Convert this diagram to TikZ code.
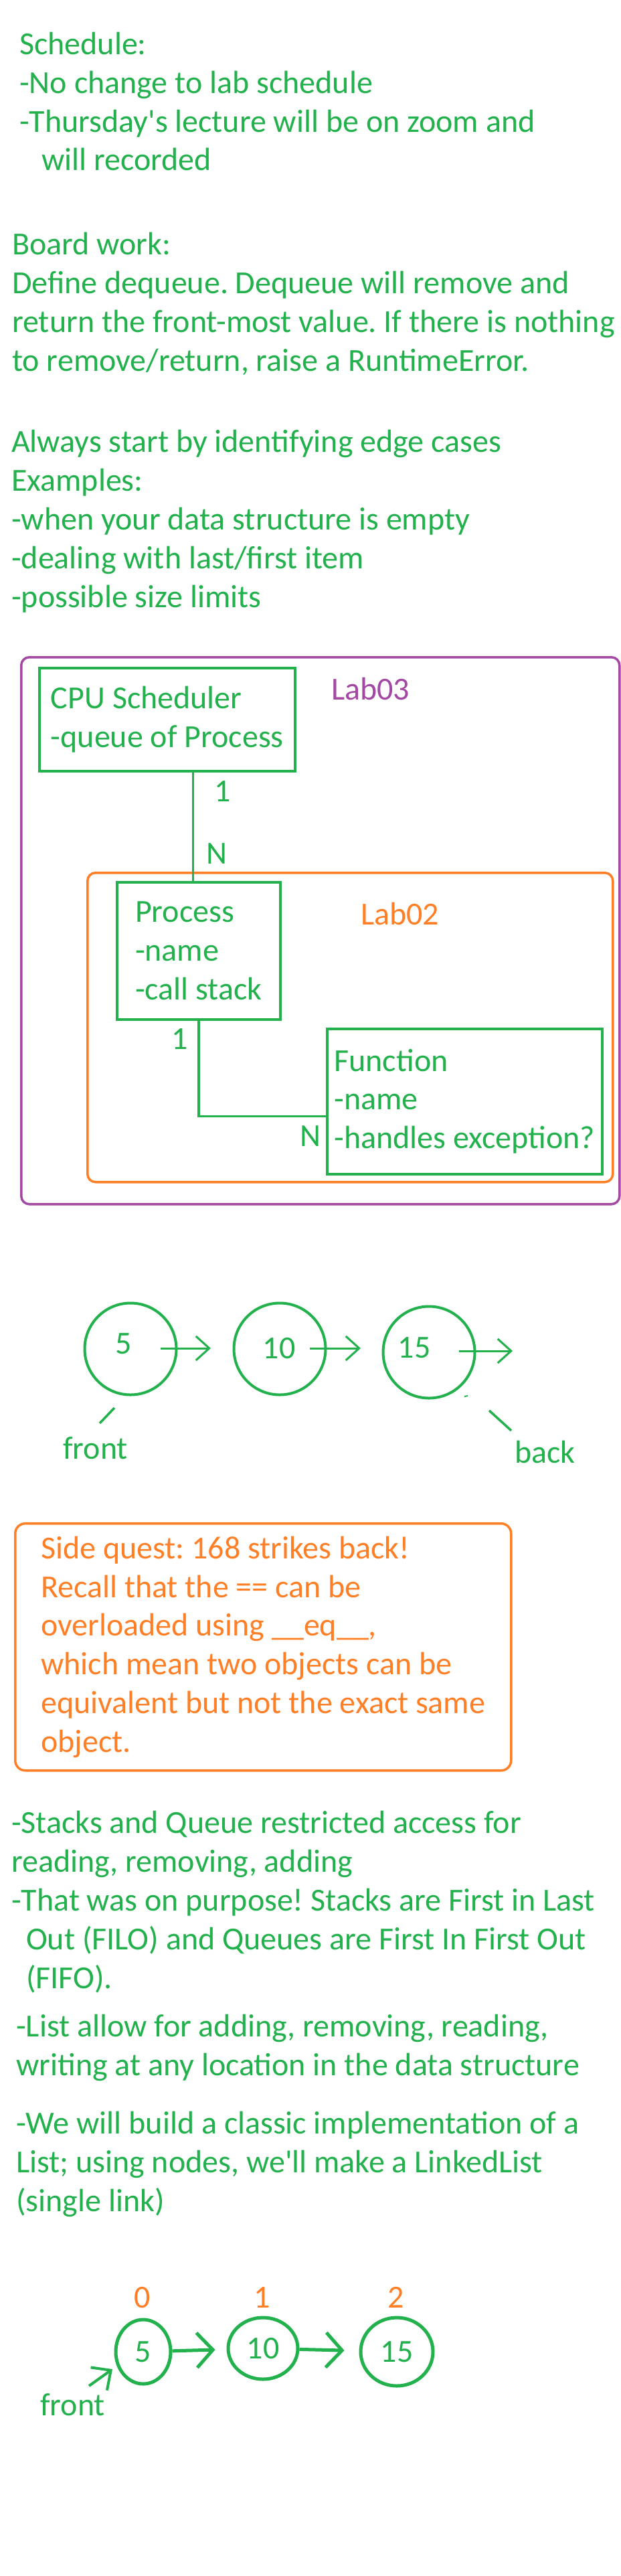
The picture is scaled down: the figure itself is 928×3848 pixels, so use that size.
\documentclass[tikz,border=0pt]{standalone}
\usepackage{fontspec}
\setmainfont{Carlito}[Ligatures=TeXOff]
\usetikzlibrary{calc,arrows.meta,shapes.geometric}
\definecolor{pgreen}{RGB}{34,177,76}
\definecolor{porange}{RGB}{255,127,39}
\definecolor{ppurple}{RGB}{163,73,164}
\frenchspacing
\begin{document}
\begin{tikzpicture}[x=1pt,y=-1pt,font=\fontsize{48}{57.8}\selectfont\frenchspacing,
    every node/.style={inner sep=0pt},
    note/.style={text=pgreen,align=left,anchor=base west},
    cls/.style={draw=pgreen,text=pgreen,line width=3.5pt,align=left,anchor=north west},
    labframe/.style={draw,line width=3.5pt,rounded corners=12pt,anchor=north west},
    link/.style={pgreen,line width=3.5pt},
    val/.style={circle,draw=pgreen,line width=4pt,minimum size=137pt},
    elem/.style={ellipse,draw=pgreen,text=pgreen,line width=5pt},
    nxt/.style={pgreen,line width=3pt,-{Straight Barb[length=20pt,width=36pt]}},
    bnxt/.style={pgreen,line width=5pt,-{Straight Barb[length=24pt,width=52pt]}}]
    \fill[white] (0,0) rectangle (928,3848);
    \useasboundingbox (0,0) rectangle (928,3848);
    \node[note] (sched) at (29,255) {Schedule:\\-No change to lab schedule\\-Thursday's lecture will be on zoom and\\\hspace*{33pt}will recorded};
    \node[note] (board) at (18,554) {Board work:\\Define dequeue. Dequeue will remove and\\return the front-most value. If there is nothing\\to remove/return, raise a RuntimeError.};
    \node[note] (edge) at (17,907) {Always start by identifying edge cases\\Examples:\\-when your data structure is empty\\-dealing with last/first item\\-possible size limits};
    \node[labframe,ppurple,minimum width=894pt,minimum height=817pt] (lab03) at (30,980) {};
    \node[labframe,porange,minimum width=785pt,minimum height=462pt] (lab02) at (129,1302) {};
    \node[ppurple,anchor=base west] at (495,1045) {Lab03};
    \node[porange,anchor=base west] at (539,1381) {Lab02};
    \node[cls,minimum width=382pt,minimum height=154pt] (cpu) at (57,996) {CPU Scheduler\\-queue of Process};
    \node[cls,minimum width=244pt,minimum height=205pt] (proc) at (173,1316) {Process\\-name\\-call stack};
    \node[cls,minimum width=411pt,minimum height=217pt] (func) at (487,1535) {Function\\-name\\-handles exception?};
    \coordinate (cpuout) at ($(cpu.south west)!0.6!(cpu.south east)$);
    \draw[link] (cpuout) -- (cpuout |- proc.north);
    \draw[link] (proc.south) |- ($(func.north west)!0.6!(func.south west)$);
    \node[pgreen,anchor=base west] at (320,1197) {1};
    \node[pgreen,anchor=base west] at (308,1290) {N};
    \node[pgreen,anchor=base west] at (256,1567) {1};
    \node[pgreen,anchor=base west] at (448,1712) {N};
    \node[val] (c5) at (195,2015) {};
    \node[val] (c10) at (418,2015) {};
    \node[val] (c15) at (641,2020) {};
    \node[pgreen] (v5) at (185,2007) {5};
    \node[pgreen] (v10) at (417,2014) {10};
    \node[pgreen] (v15) at (619,2013) {15};
    \draw[nxt] (240,2014) -- (315,2014);
    \draw[nxt] (463,2014) -- (539,2014);
    \draw[nxt] (686,2018) -- (766,2018);
    \draw[link] (171,2103) -- (149,2126);
    \node[pgreen,anchor=base west] (front) at (94,2179) {front};
    \draw[link] (731,2107) -- (764,2137);
    \draw[pgreen,line width=2pt] (694,2086) -- (699,2085);
    \node[pgreen,anchor=base west] (back) at (769,2185) {back};
    \node[draw=porange,text=porange,line width=3.5pt,rounded corners=15pt,align=left,anchor=north west,
        minimum width=741pt,minimum height=369pt] (quest) at (21,2274)
        {Side quest: 168 strikes back!\\Recall that the == can be\\overloaded using \_\_eq\_\_,\\which mean two objects can be\\equivalent but not the exact same\\object.};
    \node[note] (stacks) at (17,2970) {-Stacks and Queue restricted access for\\reading, removing, adding\\-That was on purpose! Stacks are First in Last\\\hspace*{22pt}Out (FILO) and Queues are First In First Out\\\hspace*{22pt}(FIFO).};
    \node[note] (lists) at (24,3100) {-List allow for adding, removing, reading,\\writing at any location in the data structure};
    \node[note] (linked) at (24,3303) {-We will build a classic implementation of a\\List; using nodes, we'll make a LinkedList\\(single link)};
    \node[porange,anchor=base] at (213,3447) {0};
    \node[porange,anchor=base] at (392,3447) {1};
    \node[porange,anchor=base] at (592,3447) {2};
    \node[elem,minimum width=82pt,minimum height=96pt] (n0) at (214,3513) {5};
    \node[elem,minimum width=104pt,minimum height=92pt] (n1) at (393,3508) {10};
    \node[elem,minimum width=108pt,minimum height=102pt] (n2) at (593,3513) {15};
    \draw[bnxt,shorten >=17pt] (n0) -- (n1);
    \draw[bnxt,shorten >=22pt] (n1) -- (n2);
    \node[pgreen,anchor=base west] (front2) at (60,3608) {front};
    \draw[pgreen,line width=4pt,-{Straight Barb[length=22pt,width=42pt]}] (133,3564) -- (168,3539);
\end{tikzpicture}
\end{document}
